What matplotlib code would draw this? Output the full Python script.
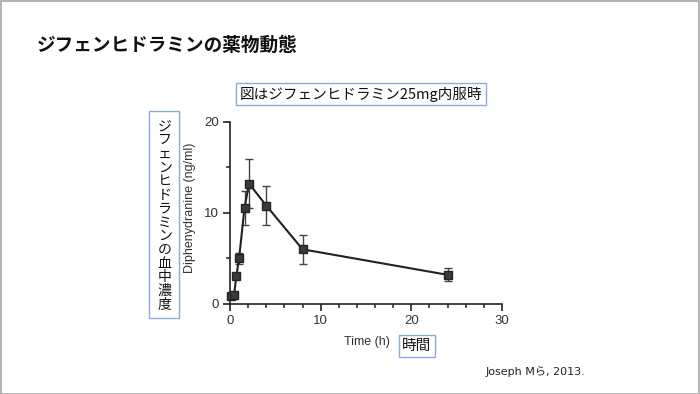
import matplotlib
matplotlib.use("Agg")
import matplotlib.pyplot as plt
from matplotlib.patches import Rectangle
from matplotlib.ticker import MultipleLocator

# data
time_h = [0.15, 0.45, 0.7, 1.0, 1.6, 2.1, 4.0, 8.0, 24.0]
conc = [0.85, 1.0, 3.05, 5.0, 10.55, 13.2, 10.8, 6.0, 3.2]
conc_err = [0.15, 0.2, 0.3, 0.65, 1.9, 2.7, 2.15, 1.6, 0.7]

title = "ジフェンヒドラミンの薬物動態"
note = "図はジフェンヒドラミン25mg内服時"
ylabel_jp = "ジフェンヒドラミンの血中濃度"
ylabel_en = "Diphenydranine (ng/ml)"
xlabel_en = "Time (h)"
xlabel_jp = "時間"
source = "Joseph Mら, 2013."

jp = ["Noto Sans CJK JP", "DejaVu Sans"]
en = ["Liberation Sans", "DejaVu Sans"]
box = dict(boxstyle="square,pad=0.25", facecolor="white", edgecolor="#8eaadb", linewidth=1)

W, H = 700, 394
fig = plt.figure(figsize=(7, 3.94), dpi=100)
fig.patches.append(Rectangle((0.001, 0.001), 0.997, 0.996, transform=fig.transFigure,
                             fill=False, edgecolor="#a6a6a6", linewidth=1.2))

def px(x, y):
  return x / W, 1 - y / H

ax = fig.add_axes([230 / W, 90 / H, 272 / W, 182.3 / H])
ax.errorbar(time_h, conc, yerr=conc_err, color="#222222", linewidth=1.5,
            marker="s", markersize=5.5, markerfacecolor="#3a3a3a", markeredgecolor="#222222",
            ecolor="#444444", elinewidth=1, capsize=3, capthick=1, clip_on=False, zorder=3)
ax.set_xlim(0, 30)
ax.set_ylim(0, 20)
ax.xaxis.set_major_locator(MultipleLocator(10))
ax.xaxis.set_minor_locator(MultipleLocator(2))
ax.yaxis.set_major_locator(MultipleLocator(10))
ax.yaxis.set_minor_locator(MultipleLocator(5))
ax.spines["top"].set_visible(False)
ax.spines["right"].set_visible(False)
for s in ("left", "bottom"):
  ax.spines[s].set_linewidth(1.2)
  ax.spines[s].set_color("#222222")
ax.tick_params(which="major", length=5, width=1.2, color="#222222", labelsize=9.5,
               labelcolor="#333333", pad=3)
ax.tick_params(which="minor", length=3, width=1.1, color="#222222")
for lbl in ax.get_xticklabels() + ax.get_yticklabels():
  lbl.set_family(en)

fig.text(*px(37, 45), title, family=jp, fontsize=13.4, fontweight="bold",
         ha="left", va="center", color="#111111")
fig.text(*px(361, 94), note, family=jp, fontsize=10.5, ha="center", va="center",
         color="#111111", bbox=box)

# vertical Japanese label, one character per line
fig.patches.append(Rectangle((149 / W, 1 - 318 / H), 30 / W, 207 / H, transform=fig.transFigure,
                             fill=True, facecolor="white", edgecolor="#8eaadb", linewidth=1))
for i, ch in enumerate(ylabel_jp):
  fig.text(*px(164.5, 126.5 + i * 13.7), ch, family=jp, fontsize=10,
           ha="center", va="center", color="#111111")

fig.text(*px(190, 208), ylabel_en, family=en, fontsize=9, rotation=90,
         ha="center", va="center", color="#333333")
fig.text(*px(367, 342), xlabel_en, family=en, fontsize=9,
         ha="center", va="center", color="#333333")
fig.text(*px(417, 346), xlabel_jp, family=jp, fontsize=10.5, ha="center", va="center",
         color="#111111", bbox=box)
fig.text(*px(535, 372), source, family=["DejaVu Sans", "Noto Sans CJK JP"], fontsize=8,
         ha="center", va="center", color="#222222")

fig.savefig("out.png", dpi=100)
